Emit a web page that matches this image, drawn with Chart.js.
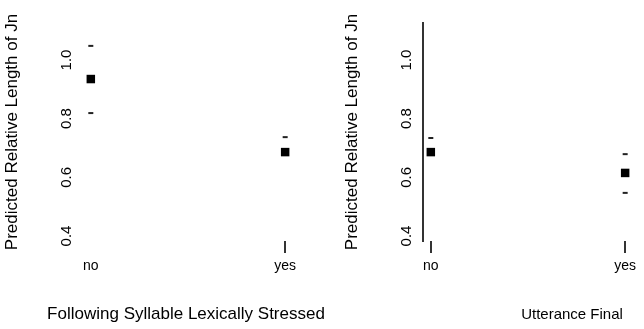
<!DOCTYPE html>
<html><head><meta charset="utf-8">
<script src="https://cdn.jsdelivr.net/npm/chart.js@4"></script>
<style>
html,body{margin:0;padding:0;background:#fff;overflow:hidden;width:644px;height:329px;}
#wrap{position:relative;width:644px;height:329px;overflow:hidden;}
canvas{position:absolute;top:0;}
.xt{position:absolute;font-family:"Liberation Sans",Arial,sans-serif;color:#000;white-space:nowrap;transform:translateX(-50%);line-height:1;}
</style></head><body>
<div id="wrap">
<canvas id="c1" width="340" height="329" style="left:0"></canvas>
<canvas id="c2" width="340" height="329" style="left:340px"></canvas>
<div class="xt" id="t1" style="left:186px;top:305px;font-size:17px"></div>
<div class="xt" id="t2" style="left:572px;top:306px;font-size:15px"></div>
</div>
<script>
const categories = ['no', 'yes'];
const yTicks = [0.4, 0.6, 0.8, 1.0];
const xTitles = ['Following Syllable Lexically Stressed', 'Utterance Final'];
const yTitle = 'Predicted Relative Length of Jn';
const panel1Fit = [0.935, 0.686];
const panel1Upper = [1.048, 0.737];
const panel1Lower = [0.819, null];
const panel2Fit = [0.686, 0.615];
const panel2Upper = [0.734, 0.679];
const panel2Lower = [null, 0.547];

document.getElementById('t1').textContent = xTitles[0];
document.getElementById('t2').textContent = xTitles[1];

const FONT = '"Liberation Sans", Arial, sans-serif';
Chart.defaults.font.family = FONT;

function pts(arr) {
  const out = [];
  arr.forEach((v, i) => { if (v !== null) out.push({x: i, y: v}); });
  return out;
}

function makeChart(id, fit, upper, lower, showAxisLine, hideFirstTick) {
  return new Chart(document.getElementById(id), {
    type: 'scatter',
    data: {
      datasets: [
        {data: pts(upper).concat(pts(lower)), pointStyle: 'line', pointRadius: 2.5,
         borderColor: '#222', backgroundColor: '#222', borderWidth: 2},
        {data: pts(fit), pointStyle: 'rect', pointRadius: 6,
         borderColor: '#000', backgroundColor: '#000', borderWidth: 0}
      ]
    },
    options: {
      responsive: false, animation: false, events: [],
      layout: {padding: {top: 23, left: 0, right: 0, bottom: 0}},
      plugins: {legend: {display: false}, tooltip: {enabled: false}},
      scales: {
        x: {
          type: 'linear', min: -0.0402, max: 1.2513,
          afterBuildTicks: s => { s.ticks = categories.map((c, i) => ({value: i})); },
          afterFit: s => { s.height = 88; },
          border: {display: false},
          grid: {drawOnChartArea: false, drawTicks: true, tickLength: 12, lineWidth: 2,
                 color: c => (hideFirstTick && c.tick && c.tick.value === 0) ? 'rgba(0,0,0,0)' : '#333'},
          ticks: {callback: v => categories[v], font: {size: 14}, color: '#000', padding: 5,
                  maxRotation: 0, autoSkip: false}
        },
        y: {
          type: 'linear', min: 0.383, max: 1.126,
          afterBuildTicks: s => { s.ticks = yTicks.map(v => ({value: v})); },
          afterFit: s => { s.width = 83; },
          border: {display: showAxisLine, color: '#333', width: 2},
          grid: {display: false, drawTicks: false},
          ticks: {minRotation: 90, maxRotation: 90, crossAlign: 'center', padding: 5.5,
                  font: {size: 15}, color: '#000', callback: v => v.toFixed(1)},
          title: {display: true, text: yTitle, font: {size: 17}, color: '#000',
                  padding: {top: 2, bottom: 0}}
        }
      }
    }
  });
}

makeChart('c1', panel1Fit, panel1Upper, panel1Lower, false, true);
makeChart('c2', panel2Fit, panel2Upper, panel2Lower, true, false);
</script>
</body></html>
